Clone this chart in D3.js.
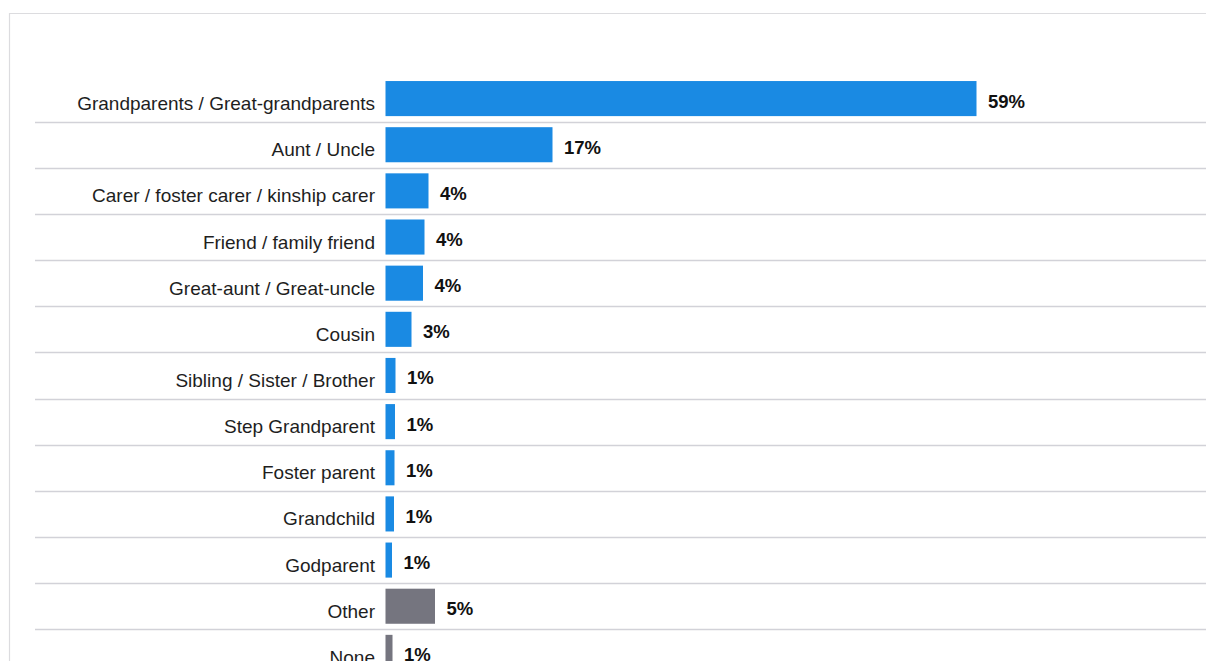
<!DOCTYPE html>
<html>
<head>
<meta charset="utf-8">
<script src="https://cdn.jsdelivr.net/npm/d3@7"></script>
<style>
html,body{margin:0;padding:0;background:#fff;}
svg{display:block;}
</style>
</head>
<body>
<svg id="chart" width="1206" height="661"></svg>
<script>
const categories = [
  "Grandparents / Great-grandparents",
  "Aunt / Uncle",
  "Carer / foster carer / kinship carer",
  "Friend / family friend",
  "Great-aunt / Great-uncle",
  "Cousin",
  "Sibling / Sister / Brother",
  "Step Grandparent",
  "Foster parent",
  "Grandchild",
  "Godparent",
  "Other",
  "None"
];
const values = [59.1, 16.7, 4.3, 3.9, 3.75, 2.6, 1.0, 0.95, 0.9, 0.85, 0.65, 4.95, 0.7];
const valueLabels = ["59%", "17%", "4%", "4%", "4%", "3%", "1%", "1%", "1%", "1%", "1%", "5%", "1%"];
const groups = ["main","main","main","main","main","main","main","main","main","main","main","other","other"];

(function () {
const svg = d3.select("#chart");
const W = 1206, H = 661;

// frame
svg.append("path")
  .attr("d", `M9.5,${H} V13.5 H${W}`)
  .attr("fill", "none")
  .attr("stroke", "#dcdcdf")
  .attr("stroke-width", 1.2);

const step = 46.15;
const y0 = 75.5;
const x0 = 385.5;
const x = d3.scaleLinear().domain([0, 100]).range([x0, x0 + 1000]);
const y = d3.scaleBand()
  .domain(categories)
  .range([y0, y0 + categories.length * step])
  .paddingInner(0.24)
  .paddingOuter(0.12);

const color = d3.scaleOrdinal().domain(["main","other"]).range(["#1a8ae3", "#75757f"]);

const data = categories.map((c, i) => ({cat: c, v: values[i], lab: valueLabels[i], g: groups[i]}));

// separators
svg.append("g").selectAll("line")
  .data(categories.slice(0, -1))
  .join("line")
  .attr("x1", 35).attr("x2", W)
  .attr("y1", d => Math.round(y(d) - y.step() * 0.12 + y.step()) + 0.5)
  .attr("y2", d => Math.round(y(d) - y.step() * 0.12 + y.step()) + 0.5)
  .attr("stroke", "#d2d2d8")
  .attr("stroke-width", 1.3);

// bars
svg.append("g").selectAll("rect")
  .data(data)
  .join("rect")
  .attr("x", x(0))
  .attr("y", d => y(d.cat))
  .attr("width", d => x(d.v) - x(0))
  .attr("height", y.bandwidth())
  .attr("fill", d => color(d.g));

// category labels
svg.append("g").selectAll("text")
  .data(data)
  .join("text")
  .attr("x", 375)
  .attr("y", d => y(d.cat) + y.bandwidth() / 2 + 11.5)
  .attr("text-anchor", "end")
  .attr("font-family", "Liberation Sans, Arial, sans-serif")
  .attr("font-size", 19)
  .attr("fill", "#1e1e1e")
  .text(d => d.cat);

// value labels
svg.append("g").selectAll("text")
  .data(data)
  .join("text")
  .attr("x", d => x(d.v) + 11.5)
  .attr("y", d => y(d.cat) + y.bandwidth() / 2 + 9)
  .attr("font-family", "Liberation Sans, Arial, sans-serif")
  .attr("font-size", 18.5)
  .attr("font-weight", "bold")
  .attr("fill", "#111")
  .text(d => d.lab);
})();
</script>
</body>
</html>
